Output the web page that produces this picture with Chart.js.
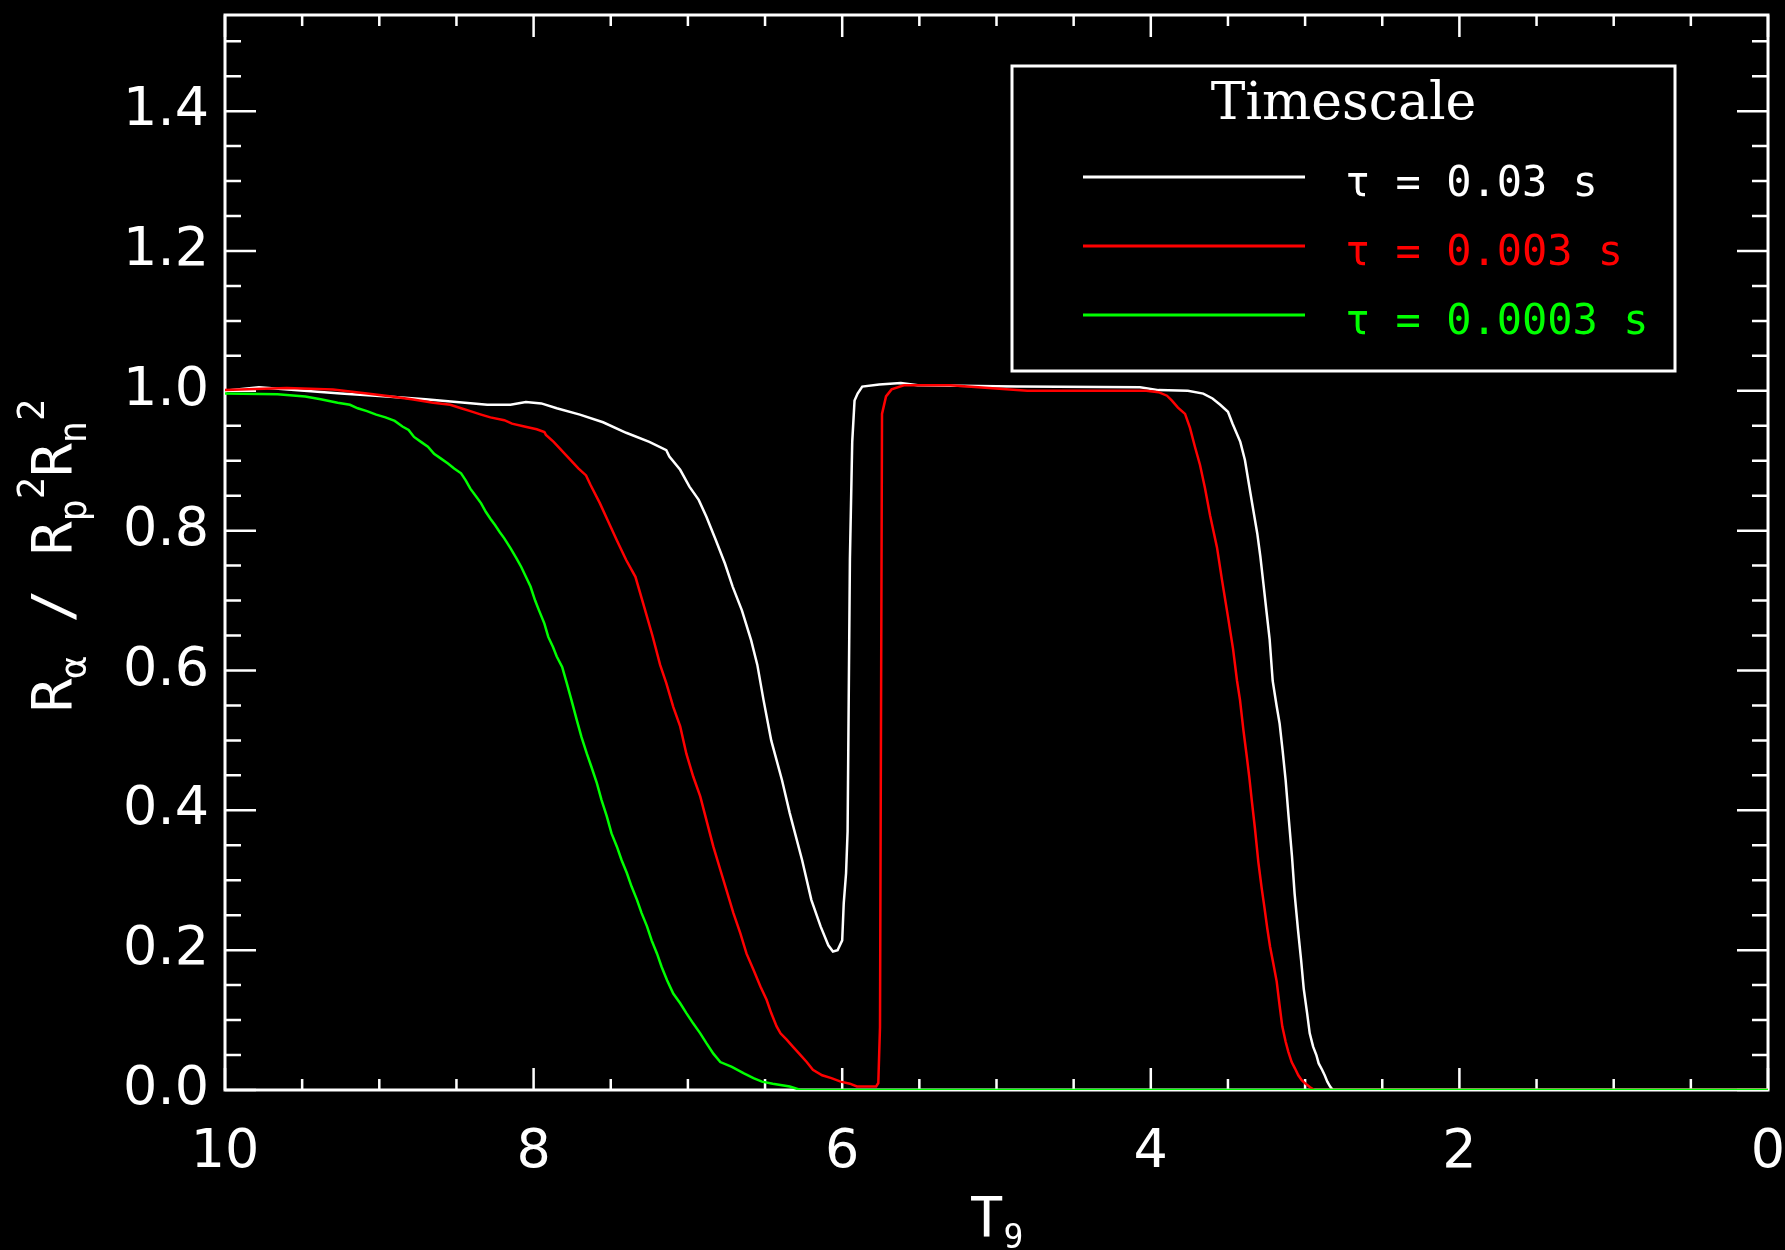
<!DOCTYPE html>
<html>
<head>
<meta charset="utf-8">
<title>R_alpha / R_p^2 R_n^2 vs T9</title>
<script src="https://cdn.jsdelivr.net/npm/chart.js@4.4.0/dist/chart.umd.min.js"></script>
<style>
    html, body { margin: 0; padding: 0; background: #000; }
</style>
</head>
<body>
<canvas id="ratioChart" width="1785" height="1250"></canvas>
<script>
// tau = 0.03 s
const t003 = [10.00, 9.78, 9.55, 9.25, 8.95, 8.70, 8.50, 8.30, 8.15, 8.05, 7.95, 7.85, 7.70, 7.55, 7.40, 7.25, 7.14,
    7.12, 7.05, 6.99, 6.93, 6.88, 6.82, 6.76, 6.71, 6.65, 6.59, 6.55, 6.51, 6.46, 6.39, 6.34, 6.26, 6.20, 6.14, 6.09,
    6.06, 6.03, 6.00, 5.99, 5.975, 5.965, 5.95, 5.935, 5.92, 5.90, 5.87, 5.76, 5.62, 5.51, 4.87, 4.07, 3.95, 3.76,
    3.66, 3.60, 3.55, 3.50, 3.47, 3.42, 3.39, 3.36, 3.34, 3.31, 3.29, 3.27, 3.25, 3.23, 3.21, 3.185, 3.165, 3.146,
    3.126, 3.107, 3.085, 3.068, 3.046, 3.026, 3.009, 2.987, 2.970, 2.948, 2.927, 2.912, 2.890, 2.873, 2.856, 2.838,
    2.82, 0.00];
const r003 = [1.000, 1.005, 1.001, 0.996, 0.992, 0.988, 0.984, 0.980, 0.980, 0.984, 0.982, 0.975, 0.966, 0.955, 0.940, 0.927, 0.915,
    0.906, 0.887, 0.863, 0.844, 0.820, 0.787, 0.753, 0.720, 0.686, 0.643, 0.608, 0.558, 0.500, 0.443, 0.396, 0.329, 0.272, 0.234, 0.207,
    0.198, 0.200, 0.214, 0.267, 0.310, 0.370, 0.760, 0.927, 0.986, 0.996, 1.006, 1.009, 1.011, 1.008, 1.006, 1.005, 1.001, 1.000,
    0.996, 0.989, 0.980, 0.970, 0.953, 0.927, 0.901, 0.861, 0.835, 0.796, 0.763, 0.724, 0.684, 0.645, 0.585, 0.550, 0.524, 0.486,
    0.443, 0.391, 0.334, 0.281, 0.229, 0.186, 0.145, 0.110, 0.081, 0.062, 0.050, 0.038, 0.029, 0.021, 0.012, 0.005,
    0.000, 0.000];

// tau = 0.003 s
const t0003 = [10.00, 9.60, 9.30, 9.08, 8.92, 8.79, 8.65, 8.54, 8.47, 8.41, 8.34, 8.28, 8.19, 8.14, 8.06, 7.98, 7.93,
    7.92, 7.87, 7.79, 7.71, 7.66, 7.63, 7.57, 7.52, 7.46, 7.40, 7.34, 7.29, 7.23, 7.18, 7.14, 7.095, 7.05, 7.01,
    6.965, 6.92, 6.88, 6.835, 6.79, 6.75, 6.705, 6.66, 6.62, 6.575, 6.53, 6.49, 6.46, 6.425, 6.40, 6.36, 6.32, 6.27,
    6.23, 6.19, 6.13, 6.07, 6.01, 5.95, 5.905, 5.78, 5.766, 5.755, 5.742, 5.716, 5.68, 5.60, 5.30, 5.05, 4.80, 4.03,
    3.95, 3.895, 3.863, 3.824, 3.778, 3.746, 3.714, 3.681, 3.649, 3.616, 3.571, 3.539, 3.50, 3.467, 3.441, 3.422,
    3.40, 3.378, 3.361, 3.346, 3.325, 3.303, 3.281, 3.264, 3.245, 3.227, 3.206, 3.184, 3.167, 3.148, 3.126, 3.109,
    3.087, 3.066, 3.044, 3.022, 3.00, 2.968, 2.94, 0.00];
const r0003 = [1.001, 1.004, 1.002, 0.996, 0.992, 0.988, 0.983, 0.980, 0.975, 0.971, 0.966, 0.962, 0.958, 0.953, 0.949, 0.945, 0.941,
    0.937, 0.927, 0.908, 0.889, 0.879, 0.865, 0.839, 0.815, 0.786, 0.758, 0.734, 0.696, 0.650, 0.608, 0.582, 0.548, 0.520, 0.481,
    0.448, 0.420, 0.386, 0.348, 0.315, 0.286, 0.253, 0.224, 0.195, 0.172, 0.148, 0.129, 0.110, 0.091, 0.081, 0.072, 0.062, 0.050,
    0.040, 0.029, 0.021, 0.017, 0.012, 0.009, 0.005, 0.005, 0.010, 0.090, 0.967, 0.992, 1.002, 1.008, 1.008, 1.004, 1.000, 1.000,
    0.998, 0.993, 0.986, 0.976, 0.967, 0.947, 0.920, 0.894, 0.861, 0.822, 0.776, 0.730, 0.677, 0.631, 0.585, 0.558,
    0.515, 0.477, 0.446, 0.415, 0.374, 0.326, 0.288, 0.262, 0.231, 0.205, 0.181, 0.155, 0.124, 0.091, 0.069, 0.055,
    0.040, 0.031, 0.021, 0.014, 0.0095, 0.004, 0.000, 0.000];

// tau = 0.0003 s
const t00003 = [10.00, 9.66, 9.48, 9.38, 9.27, 9.19, 9.14, 9.08, 9.02, 8.96, 8.90, 8.85, 8.81, 8.775, 8.73, 8.685, 8.645,
    8.60, 8.555, 8.515, 8.47, 8.44, 8.41, 8.37, 8.34, 8.31, 8.28, 8.25, 8.22, 8.19, 8.15, 8.11, 8.08, 8.05, 8.02,
    7.99, 7.965, 7.93, 7.905, 7.875, 7.85, 7.815, 7.785, 7.755, 7.72, 7.69, 7.655, 7.625, 7.59, 7.56, 7.525, 7.495,
    7.46, 7.43, 7.395, 7.365, 7.33, 7.30, 7.265, 7.235, 7.20, 7.17, 7.135, 7.095, 7.05, 7.01, 6.965, 6.92, 6.88,
    6.835, 6.79, 6.715, 6.64, 6.575, 6.52, 6.45, 6.34, 6.27, 0.00];
const r00003 = [0.996, 0.995, 0.992, 0.988, 0.983, 0.980, 0.975, 0.971, 0.966, 0.962, 0.957, 0.949, 0.944, 0.934, 0.927, 0.920, 0.910,
    0.903, 0.896, 0.889, 0.882, 0.872, 0.860, 0.848, 0.839, 0.827, 0.817, 0.808, 0.798, 0.789, 0.775, 0.760, 0.748, 0.734, 0.720,
    0.700, 0.686, 0.667, 0.648, 0.634, 0.620, 0.605, 0.582, 0.558, 0.529, 0.505, 0.481, 0.462, 0.439, 0.415, 0.391, 0.367,
    0.348, 0.329, 0.310, 0.291, 0.272, 0.253, 0.234, 0.214, 0.195, 0.176, 0.157, 0.138, 0.124, 0.110, 0.095, 0.081, 0.067,
    0.052, 0.040, 0.033, 0.024, 0.017, 0.012, 0.009, 0.005, 0.000, 0.000];

const timescales = ["0.03", "0.003", "0.0003"];
const lineColors = ["#ffffff", "#ff0000", "#00ff00"];

const xTicks = [0, 2, 4, 6, 8, 10];
const yTicks = [0.0, 0.2, 0.4, 0.6, 0.8, 1.0, 1.2, 1.4];
const xMinorStep = 0.5;
const yMinorStep = 0.05;
const yMax = 1.5375;

const MONO = '"DejaVu Sans Mono", monospace';
const SANS = '"DejaVu Sans", sans-serif';

function toPoints(t, r) {
    return t.map((v, i) => ({ x: v, y: r[i] }));
}

// box round the plot with IDL style inward ticks on all four sides
const framePlugin = {
    id: "frame",
    beforeDatasetsDraw(chart) {
        const { ctx, chartArea: a, scales: { x, y } } = chart;
        ctx.save();
        ctx.strokeStyle = "#ffffff";
        ctx.lineWidth = 3;
        ctx.strokeRect(a.left, a.top, a.right - a.left, a.bottom - a.top);

        ctx.lineWidth = 2.5;
        ctx.beginPath();
        const nx = Math.round(10 / xMinorStep);
        for (let i = 0; i <= nx; i++) {
            const px = x.getPixelForValue(i * xMinorStep);
            const len = i % 4 === 0 ? 22 : 11;
            ctx.moveTo(px, a.bottom); ctx.lineTo(px, a.bottom - len);
            ctx.moveTo(px, a.top); ctx.lineTo(px, a.top + len);
        }
        for (let i = 0; i * yMinorStep <= yMax; i++) {
            const py = y.getPixelForValue(i * yMinorStep);
            const len = i % 4 === 0 ? 31 : 16;
            ctx.moveTo(a.left, py); ctx.lineTo(a.left + len, py);
            ctx.moveTo(a.right, py); ctx.lineTo(a.right - len, py);
        }
        ctx.stroke();
        ctx.restore();
    }
};

// writes a run of text pieces with their own size and baseline shift
function drawRuns(ctx, runs, x0) {
    let cx = x0;
    for (const r of runs) {
        ctx.font = `${r.size}px ${MONO}`;
        ctx.fillText(r.text, cx, r.dy);
        cx += ctx.measureText(r.text).width;
    }
    return cx;
}

function runsWidth(ctx, runs) {
    let w = 0;
    for (const r of runs) {
        ctx.font = `${r.size}px ${MONO}`;
        w += ctx.measureText(r.text).width;
    }
    return w;
}

const titlesPlugin = {
    id: "axisTitles",
    afterDraw(chart) {
        const { ctx, chartArea: a } = chart;
        ctx.save();
        ctx.fillStyle = "#ffffff";
        ctx.textAlign = "left";
        ctx.textBaseline = "alphabetic";

        const yRuns = [
            { text: "R", size: 56, dy: 0 },
            { text: "\u03b1", size: 37, dy: 15 },
            { text: " / ", size: 56, dy: 0 },
            { text: "R", size: 56, dy: 0 },
            { text: "p", size: 37, dy: 15 },
            { text: "2", size: 37, dy: -27 },
            { text: "R", size: 56, dy: 0 },
            { text: "n", size: 37, dy: 15 },
            { text: "2", size: 37, dy: -27 }
        ];
        const yw = runsWidth(ctx, yRuns);
        ctx.save();
        ctx.translate(71, (a.top + a.bottom) / 2 + 3);
        ctx.rotate(-Math.PI / 2);
        drawRuns(ctx, yRuns, -yw / 2);
        ctx.restore();

        const xRuns = [
            { text: "T", size: 56, dy: 0 },
            { text: "9", size: 33, dy: 12 }
        ];
        const xw = runsWidth(ctx, xRuns);
        ctx.save();
        ctx.translate((a.left + a.right) / 2, 1236);
        drawRuns(ctx, xRuns, -xw / 2);
        ctx.restore();
        ctx.restore();
    }
};

const legendPlugin = {
    id: "timescaleLegend",
    afterDraw(chart) {
        const { ctx } = chart;
        const box = { left: 1012, top: 66, right: 1675, bottom: 371 };
        ctx.save();
        ctx.fillStyle = "#000000";
        ctx.fillRect(box.left, box.top, box.right - box.left, box.bottom - box.top);
        ctx.strokeStyle = "#ffffff";
        ctx.lineWidth = 3;
        ctx.strokeRect(box.left, box.top, box.right - box.left, box.bottom - box.top);

        ctx.fillStyle = "#ffffff";
        ctx.font = '52px "DejaVu Serif", serif';
        ctx.textAlign = "center";
        ctx.textBaseline = "alphabetic";
        ctx.fillText("Timescale", (box.left + box.right) / 2, 119);

        ctx.textAlign = "left";
        ctx.font = `42px ${MONO}`;
        chart.data.datasets.forEach((ds, i) => {
            const ly = 177 + i * 69;
            ctx.strokeStyle = ds.borderColor;
            ctx.lineWidth = 3;
            ctx.beginPath();
            ctx.moveTo(1083, ly);
            ctx.lineTo(1305, ly);
            ctx.stroke();
            ctx.fillStyle = ds.borderColor;
            ctx.fillText(ds.label, 1345, ly + 19);
        });
        ctx.restore();
    }
};

const datasets = [
    { t: t003, r: r003 },
    { t: t0003, r: r0003 },
    { t: t00003, r: r00003 }
].map((s, i) => ({
    label: `\u03c4 = ${timescales[i]} s`,
    data: toPoints(s.t, s.r),
    borderColor: lineColors[i],
    borderWidth: 2.5,
    pointRadius: 0,
    tension: 0,
    fill: false,
    order: 3 - i
}));

new Chart(document.getElementById("ratioChart"), {
    type: "line",
    data: { datasets },
    options: {
        responsive: false,
        animation: false,
        devicePixelRatio: 1,
        layout: { padding: { left: 0, top: 15, right: 17, bottom: 0 } },
        plugins: {
            legend: { display: false },
            tooltip: { enabled: false }
        },
        scales: {
            x: {
                type: "linear",
                reverse: true,
                min: 0,
                max: 10,
                grid: { display: false, drawTicks: false },
                border: { display: false },
                ticks: {
                    color: "#ffffff",
                    font: { family: SANS, size: 54 },
                    padding: 31,
                    maxRotation: 0,
                    callback: v => String(v)
                },
                afterBuildTicks: s => { s.ticks = xTicks.map(v => ({ value: v })); },
                afterFit: s => { s.height = 160; s.paddingLeft = 0; s.paddingRight = 0; }
            },
            y: {
                type: "linear",
                min: 0,
                max: yMax,
                grid: { display: false, drawTicks: false },
                border: { display: false },
                ticks: {
                    color: "#ffffff",
                    font: { family: SANS, size: 54 },
                    padding: 16,
                    callback: v => Number(v).toFixed(1)
                },
                afterBuildTicks: s => { s.ticks = yTicks.map(v => ({ value: v })); },
                afterFit: s => { s.width = 225; s.paddingTop = 0; s.paddingBottom = 0; }
            }
        }
    },
    plugins: [framePlugin, titlesPlugin, legendPlugin]
});
</script>
</body>
</html>
